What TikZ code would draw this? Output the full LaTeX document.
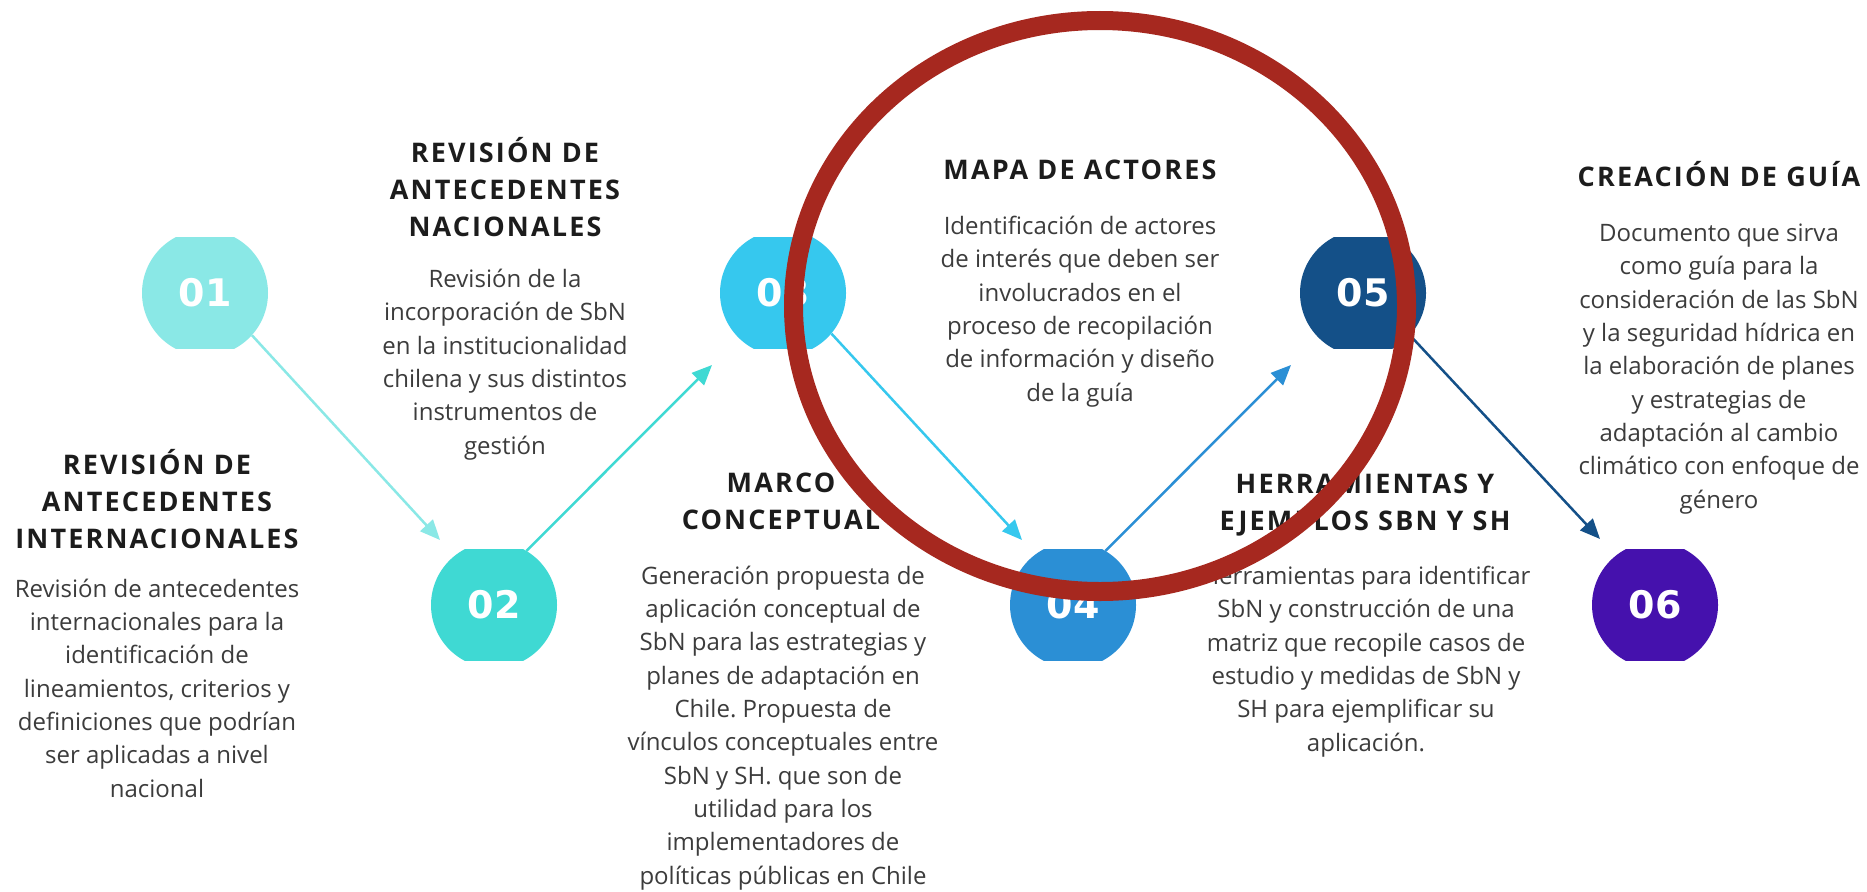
\documentclass[tikz,border=0pt]{standalone}
\usepackage{fontspec}
\setmainfont{Open Sans}
\newfontfamily\titlefont[LetterSpace=8]{Open Sans}
\newfontfamily\numfont{DejaVu Sans}
\usetikzlibrary{arrows.meta}
\frenchspacing
\definecolor{cA}{HTML}{8AE8E6}
\definecolor{cB}{HTML}{3FD9D3}
\definecolor{cC}{HTML}{36C8EE}
\definecolor{cD}{HTML}{2B8FD5}
\definecolor{cE}{HTML}{145088}
\definecolor{cF}{HTML}{4511AD}
\definecolor{redring}{HTML}{A6281F}
\definecolor{titlecol}{HTML}{1C1C1C}
\definecolor{bodycol}{HTML}{3C3C3C}
\tikzset{
  numdisc/.style={circle, minimum size=126pt, inner sep=0pt, text=white,
    font=\numfont\bfseries\fontsize{38}{38}\selectfont,
    path picture={\fill[#1] ([xshift=-70pt,yshift=-56pt]path picture bounding box.center)
      rectangle ([xshift=70pt,yshift=56pt]path picture bounding box.center);}},
  ttl/.style={anchor=base, align=center, inner sep=0pt, text=titlecol,
    font=\titlefont\bfseries\fontsize{27}{37}\selectfont},
  body/.style={anchor=base, align=center, inner sep=0pt, text=bodycol,
    font=\fontsize{24}{33.3}\selectfont},
  flow/.style={draw=#1, line width=2.5pt, -{Triangle[length=20pt,width=17pt]}},
}
\begin{document}
\begin{tikzpicture}[x=1pt,y=-1pt]
\fill[white] (0,0) rectangle (1867,891);
\useasboundingbox (0,0) rectangle (1867,891);

% numbered discs
\node[numdisc=cA] (c1) at (205,293) {01};
\node[numdisc=cB] (c2) at (494,605) {02};
\node[numdisc=cC] (c3) at (783,293) {03};
\node[numdisc=cD] (c4) at (1073,605) {04};
\node[numdisc=cE] (c5) at (1363,293) {05};
\node[numdisc=cF] (c6) at (1655,605) {06};

% arrow tips (free ends)
\coordinate (p2) at (440,540);
\coordinate (p3) at (712,365);
\coordinate (p4) at (1022,540);
\coordinate (p5) at (1291,365);
\coordinate (p6) at (1600,539);

% connectors
\draw[flow=cA] (c1.-42) -- (p2);
\draw[flow=cB] (c2.59) -- (p3);
\draw[flow=cC] (c3.-40) -- (p4);
\draw[flow=cD] (c4.59) -- (p5);
\draw[flow=cE] (c5.-42) -- (p6);

% (node positions are the baseline of the LAST line of each block)
% block 1
\node[ttl] (t1) at (157,548) {REVISIÓN DE\\ANTECEDENTES\\INTERNACIONALES};
\node[body] (d1) at (157,797) {Revisión de antecedentes\\internacionales para la\\identificación de\\lineamientos, criterios y\\definiciones que podrían\\ser aplicadas a nivel\\nacional};

% block 2
\node[ttl] (t2) at (505,236) {REVISIÓN DE\\ANTECEDENTES\\NACIONALES};
\node[body] (d2) at (505,454) {Revisión de la\\incorporación de SbN\\en la institucionalidad\\chilena y sus distintos\\instrumentos de\\gestión};

% block 3
\node[ttl] (t3) at (781,529) {MARCO\\CONCEPTUAL};
\node[body] (d3) at (783,884) {Generación propuesta de\\aplicación conceptual de\\SbN para las estrategias y\\planes de adaptación en\\Chile. Propuesta de\\vínculos conceptuales entre\\SbN y SH. que son de\\utilidad para los\\implementadores de\\políticas públicas en Chile};

% block 4
\node[ttl] (t4) at (1080,179) {MAPA DE ACTORES};
\node[body] (d4) at (1080,401) {Identificación de actores\\de interés que deben ser\\involucrados en el\\proceso de recopilación\\de información y diseño\\de la guía};

% block 5
\node[ttl] (t5) at (1365,530) {HERRAMIENTAS Y\\EJEMPLOS SBN Y SH};
\node[body] (d5) at (1366,751) {Herramientas para identificar\\SbN y construcción de una\\matriz que recopile casos de\\estudio y medidas de SbN y\\SH para ejemplificar su\\aplicación.};

% block 6
\node[ttl] (t6) at (1719,186) {CREACIÓN DE GUÍA};
\node[body] (d6) at (1719,508) {Documento que sirva\\como guía para la\\consideración de las SbN\\y la seguridad hídrica en\\la elaboración de planes\\y estrategias de\\adaptación al cambio\\climático con enfoque de\\género};

% red highlight ring
\draw[redring, line width=19pt] (1100,306) ellipse [x radius=306.5pt, y radius=285.5pt];
\end{tikzpicture}
\end{document}
